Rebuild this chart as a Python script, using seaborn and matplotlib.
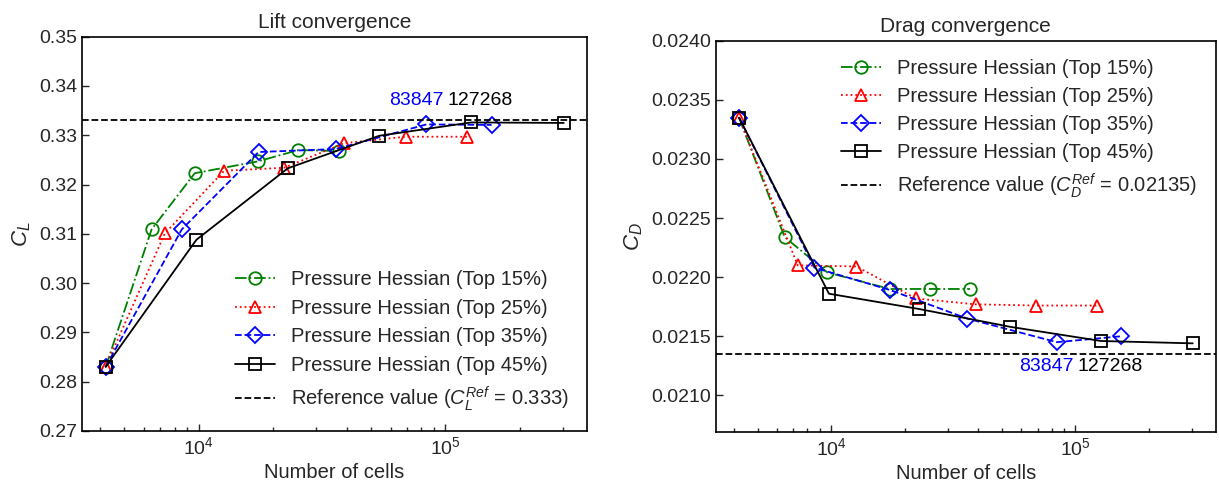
import matplotlib
matplotlib.use("Agg")
import matplotlib.pyplot as plt
import seaborn as sns
import pandas as pd
from matplotlib.ticker import LogLocator, NullFormatter, FormatStrFormatter

# ---------------- data ----------------
series_labels = ["Pressure Hessian (Top 15%)", "Pressure Hessian (Top 25%)",
                 "Pressure Hessian (Top 35%)", "Pressure Hessian (Top 45%)"]

cells_top15 = [4200, 6450, 9650, 17400, 25400, 37000]
cl_top15 = [0.2830, 0.3109, 0.3223, 0.3247, 0.3270, 0.3268]
cd_top15 = [0.02335, 0.02234, 0.02204, 0.02190, 0.02190, 0.02190]

cells_top25 = [4200, 7300, 12700, 22200, 39000, 69000, 123000]
cl_top25 = [0.2830, 0.3101, 0.3228, 0.3234, 0.3284, 0.3297, 0.3297]
cd_top25 = [0.02335, 0.02210, 0.02209, 0.02182, 0.02177, 0.02176, 0.02176]

cells_top35 = [4200, 8550, 17500, 36000, 83847, 154000]
cl_top35 = [0.2830, 0.3109, 0.3266, 0.3272, 0.3322, 0.3321]
cd_top35 = [0.02335, 0.02208, 0.02189, 0.02165, 0.02145, 0.02150]

cells_top45 = [4200, 9800, 23000, 54000, 127268, 302000]
cl_top45 = [0.2830, 0.3088, 0.3233, 0.3299, 0.3326, 0.3325]
cd_top45 = [0.02335, 0.02186, 0.02173, 0.02158, 0.02146, 0.02144]

cl_ref = 0.333
cd_ref = 0.02135
annot_blue = "83847"
annot_black = "127268"

cl_ticks = [0.27, 0.28, 0.29, 0.30, 0.31, 0.32, 0.33, 0.34, 0.35]
cd_ticks = [0.0210, 0.0215, 0.0220, 0.0225, 0.0230, 0.0235, 0.0240]

# ---------------- style ----------------
sns.set_style("ticks")
plt.rcParams["font.family"] = ["Liberation Sans", "DejaVu Sans"]
plt.rcParams["mathtext.fontset"] = "custom"
plt.rcParams["mathtext.rm"] = "Liberation Sans"
plt.rcParams["mathtext.it"] = "Liberation Sans:italic"
plt.rcParams["mathtext.bf"] = "Liberation Sans:bold"

FS_TICK = 14
FS_LEG = 14.5
FS_LAB = 14.5
FS_TITLE = 15
FS_ANN = 14

styles = [
    dict(color="green", linestyle="-.", marker="o", markersize=9),
    dict(color="red", linestyle=":", marker="^", markersize=9),
    dict(color="blue", linestyle="--", marker="D", markersize=8),
    dict(color="black", linestyle="-", marker="s", markersize=8),
]

cells = [cells_top15, cells_top25, cells_top35, cells_top45]
cls = [cl_top15, cl_top25, cl_top35, cl_top45]
cds = [cd_top15, cd_top25, cd_top35, cd_top45]

fig = plt.figure(figsize=(12.19, 4.93), dpi=100)
ax1 = fig.add_axes([0.0673, 0.1258, 0.4142, 0.7998])
ax2 = fig.add_axes([0.5871, 0.1237, 0.4102, 0.7937])


def draw(ax, ys, ref, ref_label, ylabel, title, yticks, ylim):
    for lab, xs, yv, st in zip(series_labels, cells, ys, styles):
        df = pd.DataFrame({"cells": xs, "val": yv})
        sns.lineplot(data=df, x="cells", y="val", ax=ax, sort=False,
                     label=lab, color=st["color"], linestyle=st["linestyle"],
                     marker=st["marker"], markersize=st["markersize"],
                     markerfacecolor="none", markeredgecolor=st["color"],
                     markeredgewidth=1.3, linewidth=1.3)
    ax.axhline(ref, color="black", linestyle="--", linewidth=1.3, label=ref_label)
    ax.set_xscale("log")
    ax.set_xlim(3370, 375000)
    ax.set_ylim(*ylim)
    ax.set_yticks(yticks)
    ax.xaxis.set_minor_locator(LogLocator(base=10, subs=range(2, 10), numticks=20))
    ax.xaxis.set_minor_formatter(NullFormatter())
    ax.tick_params(which="both", direction="in", top=False, right=False, labelsize=FS_TICK)
    ax.tick_params(which="major", length=5, width=1)
    ax.tick_params(which="minor", length=3, width=1)
    for sp in ax.spines.values():
        sp.set_visible(True)
        sp.set_linewidth(1.2)
        sp.set_color("black")
    ax.set_xlabel("Number of cells", fontsize=FS_LAB)
    ax.set_ylabel(ylabel, fontsize=16)
    ax.set_title(title, fontsize=FS_TITLE)


draw(ax1, cls, cl_ref, r"Reference value ($C_L^{Ref}$ = 0.333)", r"$C_L$",
     "Lift convergence", cl_ticks, (0.27, 0.35))
ax1.yaxis.set_major_formatter(FormatStrFormatter("%.2f"))
ax1.legend(loc="lower right", frameon=False, fontsize=FS_LEG,
           bbox_to_anchor=(1.0, 0.0), labelspacing=0.47)
ax1.text(0.98e5, 0.3370, annot_blue, color="blue", ha="right", va="center", fontsize=FS_ANN)
ax1.text(1.02e5, 0.3370, annot_black, color="black", ha="left", va="center", fontsize=FS_ANN)

draw(ax2, cds, cd_ref, r"Reference value ($C_D^{Ref}$ = 0.02135)", r"$C_D$",
     "Drag convergence", cd_ticks, (0.02069, 0.0240))
ax2.yaxis.set_major_formatter(FormatStrFormatter("%.4f"))
ax2.legend(loc="upper right", frameon=False, fontsize=FS_LEG,
           bbox_to_anchor=(1.0, 1.0), labelspacing=0.45)
ax2.text(0.98e5, 0.02124, annot_blue, color="blue", ha="right", va="center", fontsize=FS_ANN)
ax2.text(1.02e5, 0.02124, annot_black, color="black", ha="left", va="center", fontsize=FS_ANN)

fig.savefig("out.png", dpi=100)
